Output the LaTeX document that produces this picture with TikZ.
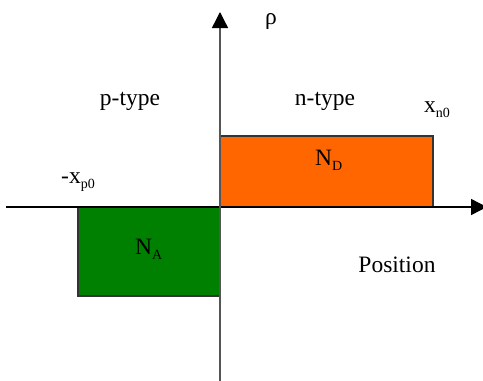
\documentclass[tikz,border=0pt]{standalone}
\usepackage{fontspec}
\setmainfont{Liberation Serif}
\usetikzlibrary{arrows.meta}
\definecolor{ndorange}{HTML}{FF6600}
\definecolor{nagreen}{HTML}{008000}
\definecolor{axgray}{HTML}{555555}
\newcommand{\mysub}[1]{\raisebox{-5pt}{\fontsize{14}{16}\selectfont #1}}
\tikzset{
  lbl/.style={font=\fontsize{23.5}{28}\selectfont, inner sep=0pt, anchor=base west},
  region/.style={draw=black!80, line width=1.3pt},
  axis/.style={line width=1.4pt, -{Triangle[length=16pt,width=16pt,color=black]}}
}
\begin{document}
\begin{tikzpicture}[x=1pt,y=-1pt]
\useasboundingbox (0,0) rectangle (483,381);
\fill[white] (0,0) rectangle (483,381);
% regions
\draw[region, fill=ndorange] (220,136) rectangle (433,207);
\draw[region, fill=nagreen] (78,207) rectangle (220,296);
% axes
\coordinate (xs) at (6,207);
\coordinate (xe) at (487,207);
\coordinate (ys) at (220,381);
\coordinate (ye) at (220,12);
\draw[axis, black] (xs) -- (xe);
\draw[axis, axgray] (ys) -- (ye);
% labels
\node[lbl, anchor=base] (rho) at (271,24) {ρ};
\node[lbl, anchor=base] (ptype) at (130,105) {p-type};
\node[lbl, anchor=base] (ntype) at (325,105) {n-type};
\node[lbl] (xn) at (424,112) {x\mysub{n0}};
\node[lbl] (xp) at (61,183) {-x\mysub{p0}};
\node[lbl] (nd) at (315,165) {N\mysub{D}};
\node[lbl] (na) at (135,254) {N\mysub{A}};
\node[lbl, anchor=base] (pos) at (397,272) {Position};
\end{tikzpicture}
\end{document}
